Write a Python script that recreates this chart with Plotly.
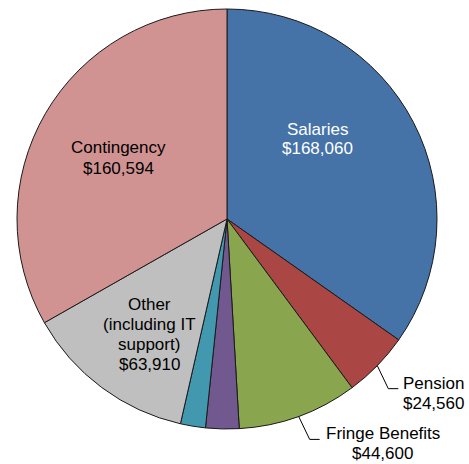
import math
import plotly.graph_objects as go

# Budget breakdown (clockwise from 12 o'clock)
categories = ["Salaries", "Pension", "Fringe Benefits", "Minor item 1", "Minor item 2",
              "Other (including IT support)", "Contingency"]
values = [168060, 24560, 44600, 12400, 9300, 63910, 160594]
colors = ["#4572A7", "#AA4643", "#89A54E", "#71588F", "#4198AF", "#BFBFBF", "#D19392"]

# Text lines of each shown label (value line is formatted from `values`)
label_lines = {
    "Salaries": ["Salaries"],
    "Contingency": ["Contingency"],
    "Other (including IT support)": ["Other", "(including IT", "support)"],
    "Pension": ["Pension"],
    "Fringe Benefits": ["Fringe Benefits"],
}

W, H = 469, 464
ML, MR, MT, MB = 17, 32, 9, 35
PW, PH = W - ML - MR, H - MT - MB
CX, CY = ML + PW / 2, MT + PH / 2
R = min(PW, PH) / 2
FONT = "Arial, Liberation Sans, sans-serif"
FS = 17
LINE = 20


def px(x):
    return (x - ML) / PW


def py(y):
    return 1 - (y - MT) / PH


total = sum(values)
mid_angle = {}
acc = 0.0
for c, v in zip(categories, values):
    mid_angle[c] = (acc + v / 2) / total * 2 * math.pi
    acc += v

fig = go.Figure(go.Pie(
    labels=categories, values=values, sort=False, direction="clockwise", rotation=0,
    marker=dict(colors=colors, line=dict(color="#1a1a1a", width=1)),
    textinfo="none", hoverinfo="label+value", showlegend=False,
))

annotations = []
shapes = []


def add_block(lines, cx, cy_first, color):
    for i, t in enumerate(lines):
        annotations.append(dict(
            x=px(cx), y=py(cy_first + i * LINE), xref="paper", yref="paper",
            text=t, showarrow=False, xanchor="center", yanchor="middle",
            font=dict(family=FONT, size=FS, color=color)))


def money(v):
    return "${:,}".format(v)


# Inside labels: (centre x, first-line y) in page pixels
inside_pos = {
    "Salaries": (317, 129, "white"),
    "Contingency": (118, 148, "black"),
    "Other (including IT support)": (149, 304, "black"),
}
for c, (x, y, col) in inside_pos.items():
    add_block(label_lines[c] + [money(values[categories.index(c)])], x, y, col)

# Outside labels with elbow leader lines
outside = {"Pension": 62, "Fringe Benefits": 118}  # approx. text widths
for c, tw in outside.items():
    a = mid_angle[c]
    x0 = CX + R * math.sin(a)
    y0 = CY - R * math.cos(a)
    x1, y1 = x0 + 11, y0 + 23
    x2, y2 = x1 + 10, y1
    shapes.append(dict(
        type="path", xref="paper", yref="paper",
        path=f"M {px(x0)},{py(y0)} L {px(x1)},{py(y1)} L {px(x2)},{py(y2)}",
        line=dict(color="black", width=1)))
    add_block(label_lines[c] + [money(values[categories.index(c)])],
              x2 + 4 + tw / 2, y2 - 5.5, "black")

fig.update_layout(
    width=W, height=H,
    margin=dict(l=ML, r=MR, t=MT, b=MB, autoexpand=False),
    paper_bgcolor="white", plot_bgcolor="white",
    annotations=annotations, shapes=shapes,
)

fig.write_html("out.html", config={"displayModeBar": False})
